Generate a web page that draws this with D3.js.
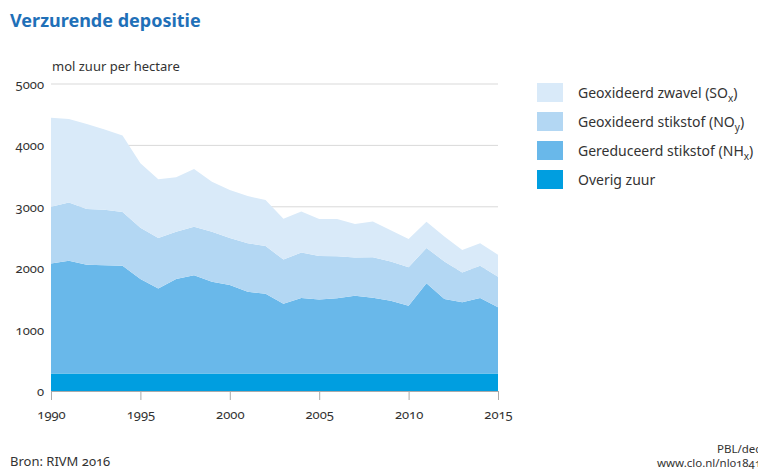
<!DOCTYPE html>
<html>
<head>
<meta charset="utf-8">
<script src="https://cdn.jsdelivr.net/npm/d3@7"></script>
<style>
body { margin: 0; background: #fff; }
svg text { font-family: "Noto Sans", "Open Sans", sans-serif; font-variant-numeric: oldstyle-nums; fill: #333; }
</style>
</head>
<body>
<svg width="758" height="470"></svg>
<script>
var years = d3.range(1990, 2016);
var overig = [285, 285, 285, 285, 285, 285, 285, 285, 285, 285, 285, 285, 285, 285, 285, 285, 285, 285, 285, 285, 285, 285, 285, 285, 285, 285];
var nhx = [1790, 1835, 1770, 1765, 1755, 1540, 1385, 1540, 1600, 1495, 1440, 1330, 1300, 1135, 1230, 1205, 1225, 1265, 1235, 1185, 1105, 1470, 1215, 1160, 1230, 1080];
var noy = [925, 950, 910, 900, 875, 835, 820, 770, 790, 815, 765, 790, 775, 720, 740, 710, 685, 625, 660, 640, 625, 575, 610, 485, 525, 495];
var sox = [1450, 1360, 1385, 1310, 1245, 1050, 960, 885, 940, 815, 785, 770, 750, 665, 670, 600, 605, 545, 580, 510, 460, 425, 405, 365, 365, 360];
var yTicks = [0, 1000, 2000, 3000, 4000, 5000];
var xTicks = [1990, 1995, 2000, 2005, 2010, 2015];

var keys = ['overig', 'nhx', 'noy', 'sox'];
var colors = { overig: '#009ee0', nhx: '#69b8ea', noy: '#b3d7f3', sox: '#d9eaf9' };

var rows = years.map(function(y, i) {
    return { year: y, overig: overig[i], nhx: nhx[i], noy: noy[i], sox: sox[i] };
});

var svg = d3.select('svg');

var x = d3.scaleLinear().domain([1990, 2015]).range([51, 498]);
var y = d3.scaleLinear().domain([0, 5000]).range([391, 84]);

svg.append('text')
    .attr('x', 10).attr('y', 27)
    .style('font-size', '18px').style('font-weight', 'bold')
    .style('fill', '#1f70b8')
    .text('Verzurende depositie');

svg.append('text')
    .attr('x', 52).attr('y', 71)
    .style('font-size', '13px')
    .text('mol zuur per hectare');

// grid
svg.append('g').selectAll('line')
    .data(yTicks.slice(1))
    .enter().append('line')
    .attr('x1', 51).attr('x2', 498)
    .attr('y1', function(d) { return y(d); })
    .attr('y2', function(d) { return y(d); })
    .attr('stroke', '#d9d9d9').attr('stroke-width', 1);

var series = d3.stack().keys(keys)(rows);

var area = d3.area()
    .x(function(d) { return x(d.data.year); })
    .y0(function(d) { return y(d[0]); })
    .y1(function(d) { return y(d[1]); });

svg.append('g').selectAll('path')
    .data(series)
    .enter().append('path')
    .attr('fill', function(d) { return colors[d.key]; })
    .attr('d', area);

// y labels
svg.append('g').selectAll('text')
    .data(yTicks)
    .enter().append('text')
    .attr('x', 44)
    .attr('y', function(d) { return y(d) + 5; })
    .attr('text-anchor', 'end')
    .style('font-size', '13px')
    .text(function(d) { return d; });

// x axis
var xAxis = svg.append('g')
    .attr('transform', 'translate(0,391)')
    .call(d3.axisBottom(x).tickValues(xTicks).tickFormat(d3.format('d')).tickSize(9).tickSizeOuter(0));
xAxis.select('.domain').attr('stroke', '#aaa');
xAxis.selectAll('.tick line').attr('stroke', '#aaa');
xAxis.selectAll('.tick text')
    .attr('y', 19)
    .style('font-size', '13px')
    .style('fill', '#333');

// legend
var legendItems = [
    { key: 'sox', label: 'Geoxideerd zwavel (SO', sub: 'x' },
    { key: 'noy', label: 'Geoxideerd stikstof (NO', sub: 'y' },
    { key: 'nhx', label: 'Gereduceerd stikstof (NH', sub: 'x' },
    { key: 'overig', label: 'Overig zuur', sub: null }
];

var lg = svg.append('g').selectAll('g')
    .data(legendItems)
    .enter().append('g')
    .attr('transform', function(d, i) { return 'translate(537,' + (83 + i * 29) + ')'; });

lg.append('rect')
    .attr('width', 26).attr('height', 19)
    .attr('fill', function(d) { return colors[d.key]; });

lg.each(function(d) {
    var t = d3.select(this).append('text')
        .attr('x', 41).attr('y', 15)
        .style('font-size', '14px');
    t.append('tspan').text(d.label);
    if (d.sub) {
        t.append('tspan').attr('dy', 4).style('font-size', '10px').text(d.sub);
        t.append('tspan').attr('dy', -4).text(')');
    }
});

svg.append('text')
    .attr('x', 10).attr('y', 466)
    .style('font-size', '13px')
    .text('Bron: RIVM 2016');

svg.append('text')
    .attr('x', 717).attr('y', 453)
    .style('font-size', '11.5px')
    .text('PBL/dec16');

svg.append('text')
    .attr('x', 657).attr('y', 467)
    .style('font-size', '11.5px')
    .text('www.clo.nl/nl018416');
</script>
</body>
</html>
